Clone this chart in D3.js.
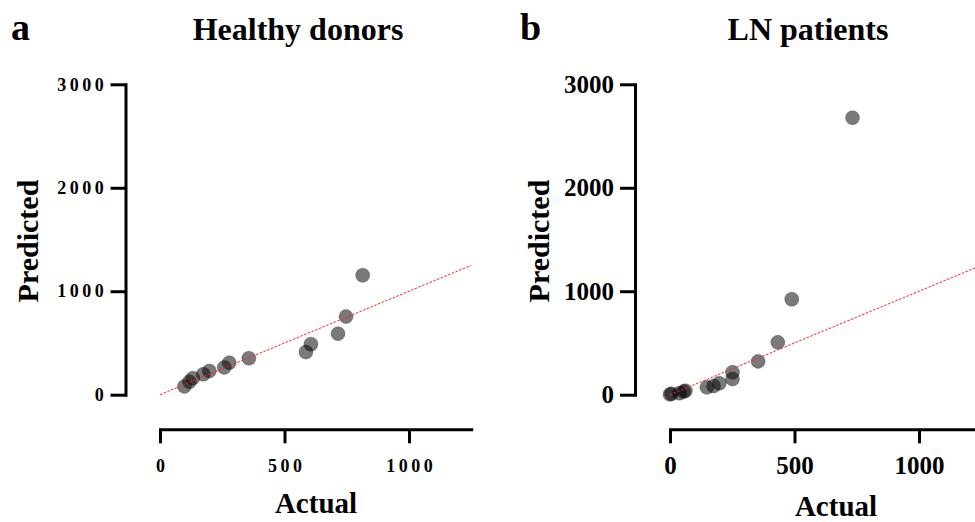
<!DOCTYPE html>
<html lang="en">
<head>
	<meta charset="UTF-8">
	<title>Actual vs Predicted</title>
	<script src="https://cdn.jsdelivr.net/npm/d3@7"></script>
	<style>
		body { margin: 0; background: white; }
		svg text { font-family: "Liberation Serif", "Times New Roman", serif; font-weight: bold; fill: black; }
	</style>
</head>
<body>
	<div id="vis"></div>

	<script>
		var width = 975;
		var height = 522;

		// panel a - healthy donors
		var healthyActual    = [98, 118, 132, 174, 198, 258, 278, 357, 586, 606, 715, 747, 814];
		var healthyPredicted = [80, 125, 160, 197, 229, 264, 309, 352, 412, 488, 590, 755, 1154];

		// panel b - LN patients
		var lnActual    = [0, 6, 38, 55, 62, 148, 175, 198, 251, 251, 354, 433, 489, 733];
		var lnPredicted = [3, 10, 14, 30, 38, 71, 84, 110, 152, 216, 322, 506, 923, 2677];

		var xTicks = [0, 500, 1000];
		var yTicks = [0, 1000, 2000, 3000];
		var xMax = 1250;
		var yMax = 3000;

		var panels = [
			{ letter: "a", title: "Healthy donors", xs: healthyActual, ys: healthyPredicted,
			  x0: 160, yAxisX: 125.5, titleX: 298, letterX: 11, ylabX: 38, xlabX: 316, xlabY: 513,
			  tickFont: 18, spacing: 3.5 },
			{ letter: "b", title: "LN patients", xs: lnActual, ys: lnPredicted,
			  x0: 670, yAxisX: 635, titleX: 808, letterX: 520, ylabX: 549, xlabX: 836, xlabY: 516,
			  tickFont: 25, spacing: 0 }
		];

		var svg = d3.select("#vis").append("svg")
			.attr("width", width)
			.attr("height", height);

		panels.forEach(function(p) {
			var g = svg.append("g");

			// scales
			var x = d3.scaleLinear().domain([0, xMax]).range([p.x0, p.x0 + 0.249 * xMax]);
			var y = d3.scaleLinear().domain([0, yMax]).range([394.7, 84.3]);

			// y axis
			var yAxis = g.append("g")
				.attr("transform", "translate(" + p.yAxisX + ",0)")
				.call(d3.axisLeft(y).tickValues(yTicks).tickSize(15).tickSizeOuter(0).tickPadding(p.spacing ? 5 : 6).tickFormat(d3.format("d")));

			// x axis
			var xAxis = g.append("g")
				.attr("transform", "translate(0,429.3)")
				.call(d3.axisBottom(x).tickValues(xTicks).tickSize(14).tickSizeOuter(0).tickPadding(p.spacing ? 16 : 13).tickFormat(d3.format("d")));

			[yAxis, xAxis].forEach(function(ax) {
				ax.select(".domain").attr("stroke", "black").attr("stroke-width", 3).attr("stroke-linecap", "square");
				ax.selectAll(".tick line").attr("stroke", "black").attr("stroke-width", 3);
				ax.selectAll(".tick text")
					.attr("font-family", null)
					.style("font-size", p.tickFont + "px")
					.style("letter-spacing", p.spacing + "px");
			});
			if (p.spacing) {
				// shift spaced labels so the trailing letter gap does not offset them
				xAxis.selectAll(".tick text").attr("dx", p.spacing / 2);
				yAxis.selectAll(".tick text").attr("dx", p.spacing * 0.5);
			}
			xAxis.attr("font-size", null);
			yAxis.attr("font-size", null);

			// points
			var pts = p.xs.map(function(v, i) { return [v, p.ys[i]]; });
			g.selectAll("circle")
				.data(pts)
				.enter().append("circle")
				.attr("cx", function(d) { return x(d[0]); })
				.attr("cy", function(d) { return y(d[1]); })
				.attr("r", 7)
				.attr("fill", "black")
				.attr("fill-opacity", 0.52)
				.attr("stroke", "black")
				.attr("stroke-opacity", 0.25)
				.attr("stroke-width", 1);

			// identity line
			g.append("line")
				.attr("x1", x(0)).attr("y1", y(0))
				.attr("x2", x(xMax)).attr("y2", y(xMax))
				.attr("stroke", "#ff2020")
				.attr("stroke-width", 1)
				.attr("stroke-dasharray", "2.5,1.5");

			// titles
			g.append("text")
				.attr("x", p.letterX).attr("y", 39.5)
				.style("font-size", "38px")
				.text(p.letter);

			g.append("text")
				.attr("x", p.titleX).attr("y", 39.5)
				.attr("text-anchor", "middle")
				.style("font-size", "32px")
				.text(p.title);

			g.append("text")
				.attr("x", p.xlabX).attr("y", p.xlabY)
				.attr("text-anchor", "middle")
				.style("font-size", "29px")
				.text("Actual");

			g.append("text")
				.attr("transform", "translate(" + p.ylabX + ",241) rotate(-90)")
				.attr("text-anchor", "middle")
				.style("font-size", "30px")
				.text("Predicted");
		});
	</script>
</body>
</html>
